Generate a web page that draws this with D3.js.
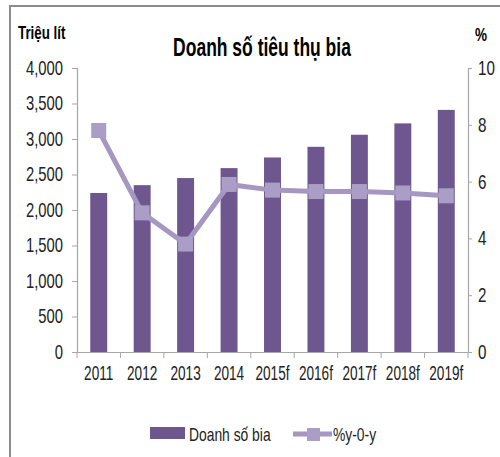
<!DOCTYPE html>
<html>
<head>
<meta charset="utf-8">
<script src="https://cdn.jsdelivr.net/npm/d3@7"></script>
<style>
  body { margin: 0; background: #fff; }
  text { font-family: "Liberation Sans", Arial, sans-serif; }
</style>
</head>
<body>
<div id="chart"></div>
<script>
const years = ["2011", "2012", "2013", "2014", "2015f", "2016f", "2017f", "2018f", "2019f"]
const sales = [2240, 2350, 2450, 2590, 2740, 2890, 3060, 3220, 3410]
const growth = [7.8, 4.9, 3.8, 5.9, 5.7, 5.65, 5.65, 5.6, 5.5]
const leftTicks = [0, 500, 1000, 1500, 2000, 2500, 3000, 3500, 4000]
const rightTicks = [0, 2, 4, 6, 8, 10]

const width = 500, height = 457
const plotL = 77, plotR = 468, plotT = 68, plotB = 352

// the source uses a narrow face, squeeze Liberation Sans around its anchor
const squeeze = function (sel, k) {
    sel.each(function () {
        const ax = +(this.getAttribute("x") || 0)
        d3.select(this)
            .attr("transform", `translate(${ax},0) scale(${k},1) translate(${-ax},0)`)
    })
}

const svg = d3.select("#chart").append("svg")
    .attr("width", width)
    .attr("height", height)

// outer frame
svg.append("path")
    .attr("d", `M10,${height} L10,6 L${width},6`)
    .attr("fill", "none")
    .attr("stroke", "#8c8c8c")
    .attr("stroke-width", 2)

const x = d3.scaleBand().domain(years).range([plotL, plotR])
const y = d3.scaleLinear().domain([0, 4000]).range([plotB, plotT])
const y2 = d3.scaleLinear().domain([0, 10]).range([plotB, plotT])

// bars
const barW = x.bandwidth() * 0.39
svg.selectAll(".bar")
    .data(sales)
    .enter().append("rect")
    .attr("class", "bar")
    .attr("x", (d, i) => x(years[i]) + x.bandwidth() / 2 - barW / 2)
    .attr("y", d => y(d))
    .attr("width", barW)
    .attr("height", d => plotB - y(d))
    .attr("fill", "#6e578f")

// axes
const leftAxis = svg.append("g")
    .attr("transform", `translate(${plotL},0)`)
    .call(d3.axisLeft(y).tickValues(leftTicks).tickSize(5).tickPadding(9).tickFormat(d3.format(",")))
const rightAxis = svg.append("g")
    .attr("transform", `translate(${plotR},0)`)
    .call(d3.axisRight(y2).tickValues(rightTicks).tickSize(4).tickPadding(6))
const xAxis = svg.append("g")
    .attr("transform", `translate(0,${plotB})`)
    .call(d3.axisBottom(x).tickSize(0).tickPadding(18))

// x tick marks at category boundaries
xAxis.selectAll(".bound")
    .data(d3.range(years.length + 1))
    .enter().append("line")
    .attr("class", "bound")
    .attr("x1", i => plotL + i * x.step())
    .attr("x2", i => plotL + i * x.step())
    .attr("y1", 0)
    .attr("y2", 6)
    .attr("stroke", "#a6a6a6")

svg.selectAll(".domain").attr("stroke", "#a6a6a6").attr("stroke-width", 1.2)
svg.selectAll(".tick line").attr("stroke", "#a6a6a6")
svg.selectAll(".tick text")
    .attr("fill", "#222")
    .style("font-size", "20px")
    .style("font-family", "'Liberation Sans', Arial, sans-serif")
xAxis.selectAll(".tick text").attr("dy", "0.5em")

squeeze(leftAxis.selectAll(".tick text"), 0.74)
squeeze(rightAxis.selectAll(".tick text"), 0.76)
squeeze(xAxis.selectAll(".tick text"), 0.68)

// growth line
const line = d3.line()
    .x((d, i) => x(years[i]) + x.bandwidth() / 2)
    .y(d => y2(d))
svg.append("path")
    .datum(growth)
    .attr("d", line)
    .attr("fill", "none")
    .attr("stroke", "#a597c1")
    .attr("stroke-width", 5)

const mk = 15
svg.selectAll(".mk")
    .data(growth)
    .enter().append("rect")
    .attr("class", "mk")
    .attr("x", (d, i) => x(years[i]) + x.bandwidth() / 2 - mk / 2)
    .attr("y", d => y2(d) - mk / 2)
    .attr("width", mk)
    .attr("height", mk)
    .attr("fill", "#aa9dc6")

// titles
const title = svg.append("text")
    .attr("x", 262)
    .attr("y", 56)
    .attr("text-anchor", "middle")
    .style("font-size", "25px")
    .style("font-weight", "bold")
    .text("Doanh số tiêu thụ bia")
squeeze(title, 0.70)

const unitL = svg.append("text")
    .attr("x", 18)
    .attr("y", 39)
    .style("font-size", "18px")
    .style("font-weight", "bold")
    .text("Triệu lít")
squeeze(unitL, 0.74)

const unitR = svg.append("text")
    .attr("x", 475)
    .attr("y", 41)
    .style("font-size", "18px")
    .style("font-weight", "bold")
    .text("%")
squeeze(unitR, 0.75)

// legend
const lg = svg.append("g")
lg.append("rect")
    .attr("x", 150).attr("y", 427).attr("width", 35).attr("height", 12)
    .attr("fill", "#6e578f")
lg.append("text")
    .attr("class", "lgt")
    .attr("x", 189).attr("y", 441)
    .style("font-size", "18px").attr("fill", "#222")
    .text("Doanh số bia")
lg.append("line")
    .attr("x1", 293).attr("x2", 332).attr("y1", 434).attr("y2", 434)
    .attr("stroke", "#a597c1").attr("stroke-width", 5)
lg.append("rect")
    .attr("x", 307).attr("y", 428).attr("width", 13).attr("height", 13)
    .attr("fill", "#aa9dc6")
lg.append("text")
    .attr("class", "lgt")
    .attr("x", 333).attr("y", 441)
    .style("font-size", "18px").attr("fill", "#222")
    .text("%y-0-y")
squeeze(lg.selectAll(".lgt"), 0.77)
</script>
</body>
</html>
